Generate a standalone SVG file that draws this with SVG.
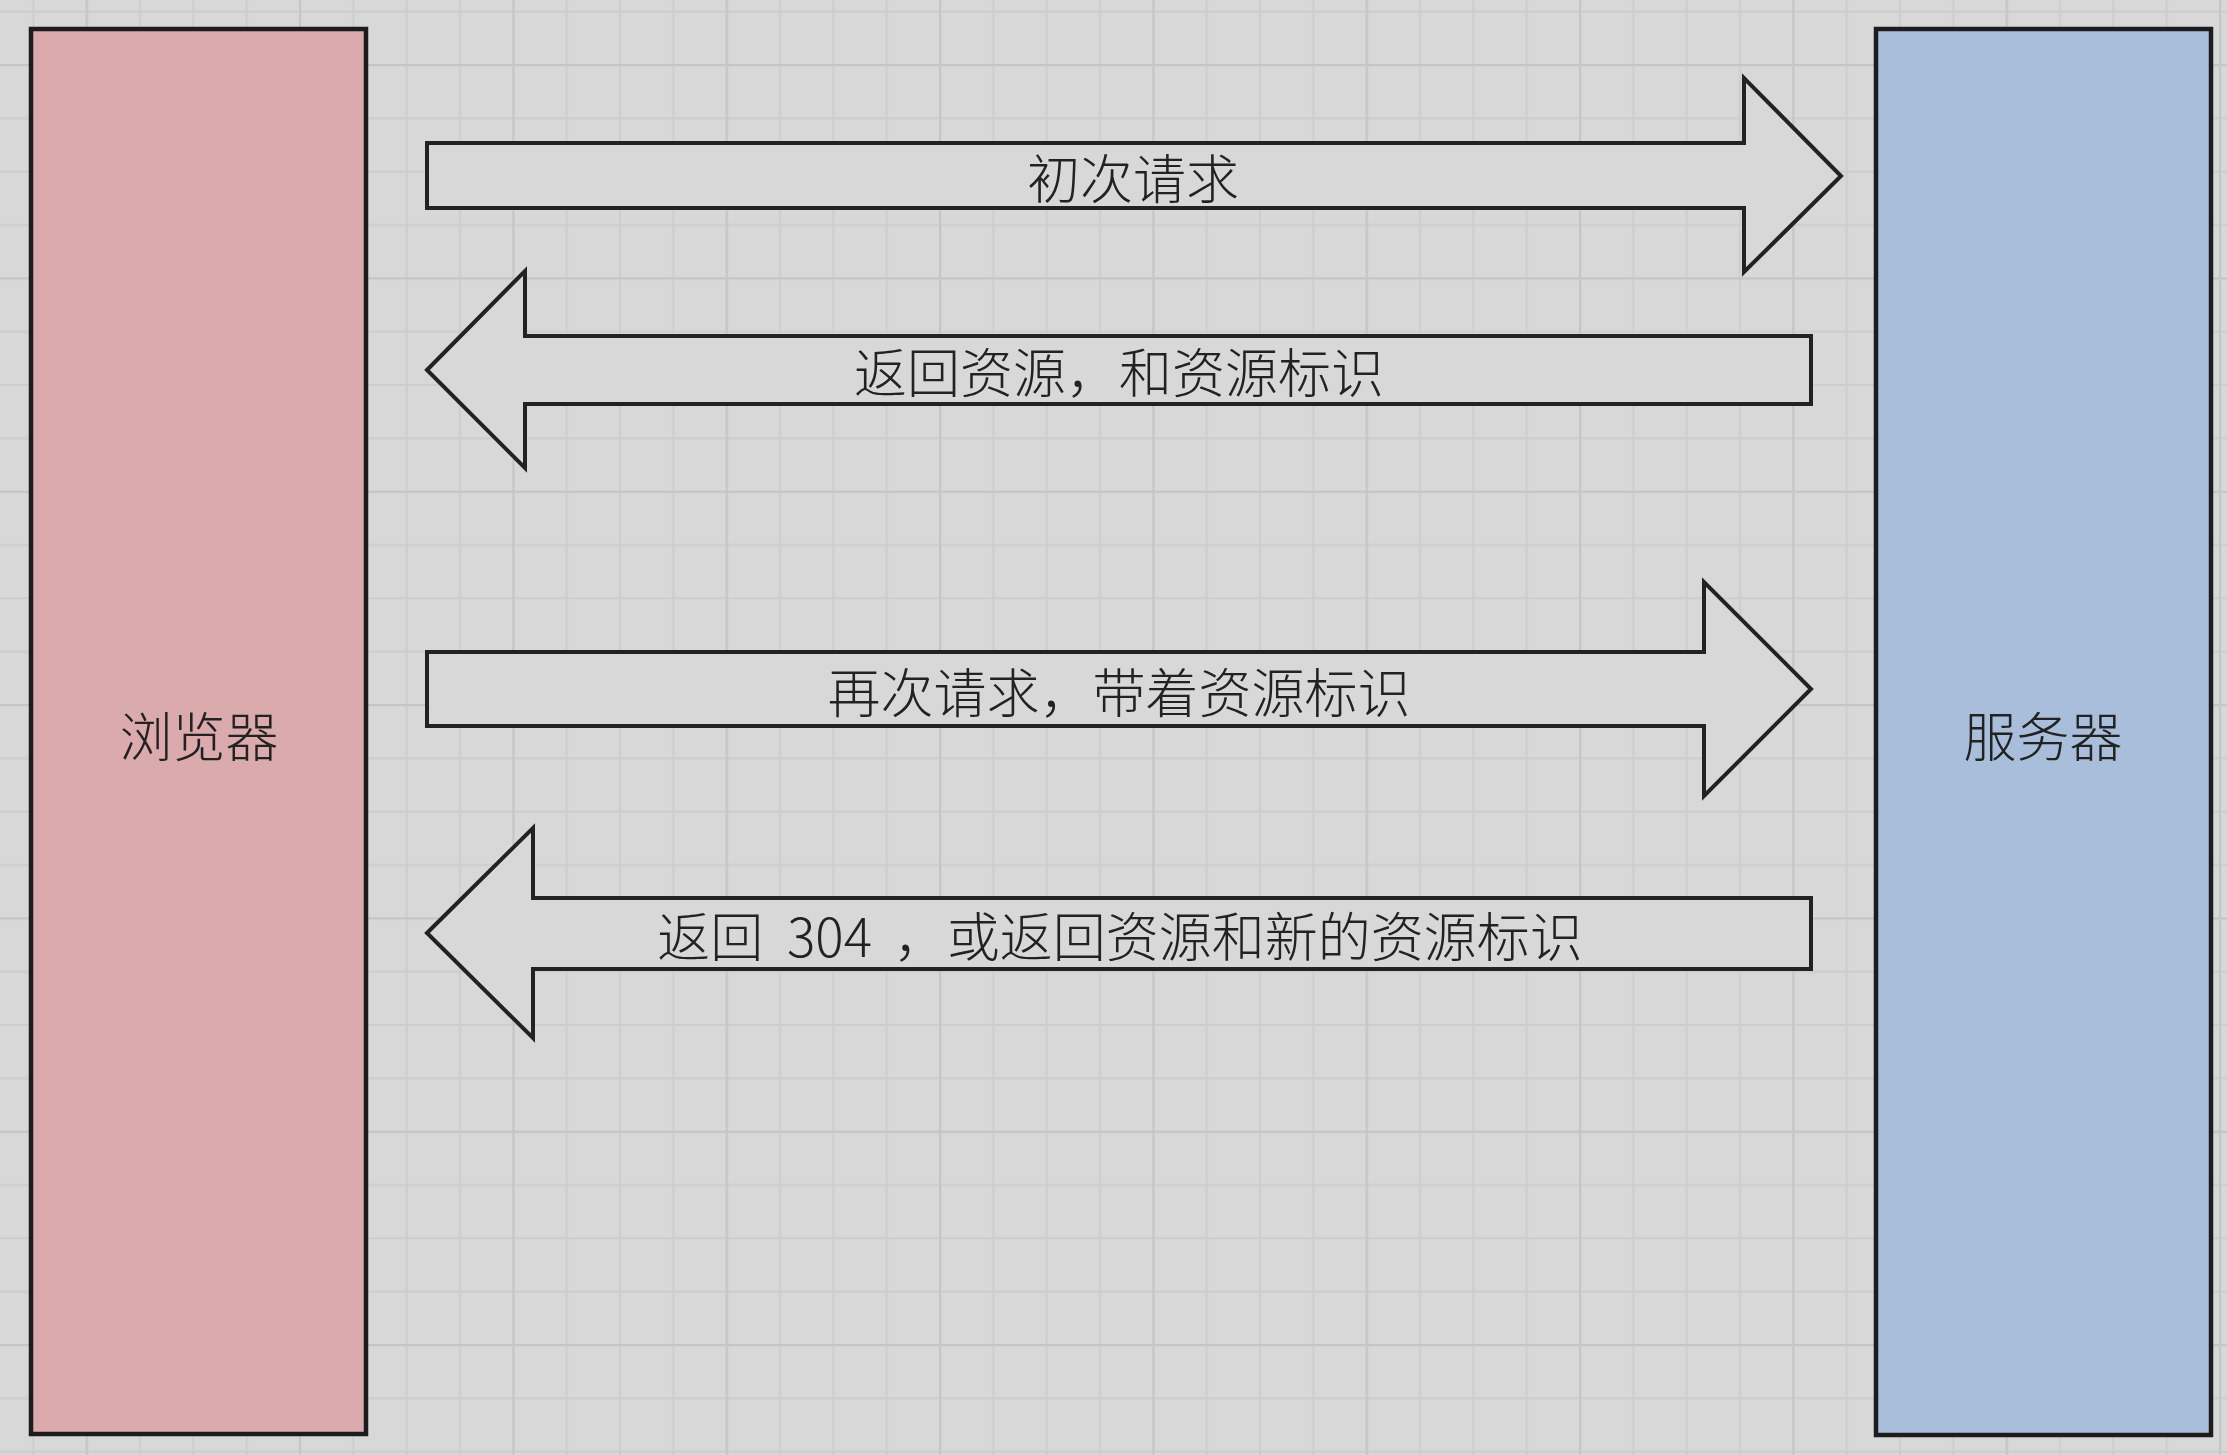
<svg xmlns="http://www.w3.org/2000/svg" width="2227" height="1455" viewBox="0 0 2227 1455">
<style>
.node{stroke:#1c1c1c;stroke-width:4.5}
.browser{fill:#dbaaad}
.server{fill:#a9bedb}
.arrow{fill:#d8d8d8;stroke:#222;stroke-width:4;stroke-linejoin:miter}
text{font-family:"Noto Sans CJK SC","Noto Sans",sans-serif;font-size:53px;font-weight:300;fill:#222;text-anchor:middle;dominant-baseline:central}
</style>
<defs>
<pattern id="grid" patternUnits="userSpaceOnUse" x="85.7" y="64" width="213.33" height="213.33">
<rect x="0" y="0" width="213.33" height="213.33" fill="#d8d8d8"/>
<g fill="#cdcdcd">
<rect x="53.33" y="0" width="2" height="213.33"/>
<rect x="106.67" y="0" width="2" height="213.33"/>
<rect x="160" y="0" width="2" height="213.33"/>
<rect x="0" y="53.33" width="213.33" height="2"/>
<rect x="0" y="106.67" width="213.33" height="2"/>
<rect x="0" y="160" width="213.33" height="2"/>
</g>
<g fill="#c5c5c5">
<rect x="0" y="0" width="2.2" height="213.33"/>
<rect x="0" y="0" width="213.33" height="2.2"/>
</g>
</pattern>
</defs>
<rect x="0" y="0" width="2227" height="1455" fill="url(#grid)"/>

<g id="browser">
<rect class="node browser" x="31" y="29" width="335" height="1405"/>
<text x="199" y="734">浏览器</text>
</g>

<g id="server">
<rect class="node server" x="1876" y="29" width="335" height="1406"/>
<text x="2043" y="734">服务器</text>
</g>

<g id="connectors">
<g id="arrow-initial-request">
<polygon class="arrow" points="427,143 1744,143 1744,78 1841,176 1744,272 1744,208 427,208"/>
<text x="1133" y="176">初次请求</text>
</g>
<g id="arrow-return-resource">
<polygon class="arrow" points="427,370 525,271 525,336 1811,336 1811,404 525,404 525,468"/>
<text x="1119" y="370">返回资源，和资源标识</text>
</g>
<g id="arrow-request-again">
<polygon class="arrow" points="427,652 1704,652 1704,582 1811,689 1704,796 1704,726 427,726"/>
<text x="1119" y="690">再次请求，带着资源标识</text>
</g>
<g id="arrow-return-304">
<polygon class="arrow" points="427,933 533,828 533,898 1811,898 1811,969 533,969 533,1038"/>
<text x="1120" y="934">返回<tspan dx="12"> 304 </tspan><tspan dx="10">，或返回资源和新的资源标识</tspan></text>
</g>
</g>
</svg>
